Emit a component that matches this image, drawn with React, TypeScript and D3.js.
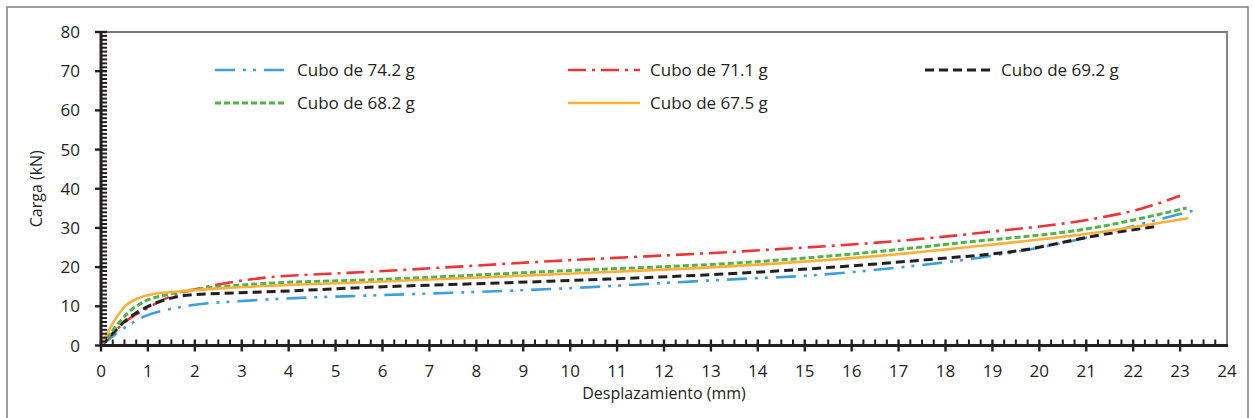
import React, { useEffect, useRef } from "react";
import * as d3 from "d3";

// Carga (kN) vs Desplazamiento (mm)
const cubo742: [number, number][] = [
  [0, 0], [0.16, 1.5], [0.5, 4.5], [0.94, 7.5], [1.43, 9.2], [2, 10.4], [2.93, 11.3],
  [4.13, 12.1], [5.34, 12.6], [9.57, 14.4], [13.83, 17.1], [14.6, 17.5], [17, 19.9],
  [19, 22.9], [21, 27.5], [22, 30.5], [23.4, 34.8],
];
const cubo711: [number, number][] = [
  [0, 0], [0.3, 3.7], [0.58, 6.6], [1.0, 9.6], [1.5, 12.6], [2, 14.3], [2.71, 16.0],
  [3.42, 17.2], [4.85, 18.3], [5.52, 18.7], [9.57, 21.5], [14.04, 24.3], [17, 26.7],
  [19.02, 29.1], [21.14, 32.3], [22.2, 35], [23.0, 38.2],
];
const cubo692: [number, number][] = [
  [0, 0], [0.23, 2.8], [0.51, 6.2], [0.94, 9.6], [1.43, 11.9], [2, 13.0], [2.86, 13.4],
  [3.78, 13.8], [5.4, 14.7], [9.57, 16.4], [13.97, 18.7], [15.5, 19.9], [17.6, 21.9],
  [19.73, 24.5], [21.15, 27.9], [22.5, 30.4],
];
const cubo682: [number, number][] = [
  [0, 0], [0.3, 4.6], [0.58, 8.4], [0.94, 11.3], [1.43, 13.0], [2, 14.3], [3.07, 15.5],
  [4.13, 16.2], [5.34, 16.6], [9.57, 18.9], [14.1, 21.5], [16.5, 23.9], [18.31, 26.2],
  [21.14, 30.0], [23.14, 35.1],
];
const cubo675: [number, number][] = [
  [0, 0], [0.3, 6.6], [0.51, 10.0], [0.8, 12.1], [1.15, 13.2], [1.65, 13.8], [2.71, 14.7],
  [4.13, 15.5], [5.34, 16.0], [9.57, 18.1], [14.1, 20.7], [16.5, 22.8], [18.31, 24.9],
  [21.14, 28.7], [23.17, 32.5],
];

const SERIES = [
  { name: "Cubo de 74.2 g", data: cubo742, color: "#3f9fd8", dash: "20,8,3,7,3,8", width: 2.6 },
  { name: "Cubo de 71.1 g", data: cubo711, color: "#ec3439", dash: "18,6,3,6", width: 2.6 },
  { name: "Cubo de 69.2 g", data: cubo692, color: "#231f20", dash: "9,5", width: 3 },
  { name: "Cubo de 68.2 g", data: cubo682, color: "#4fb447", dash: "6,3", width: 3 },
  { name: "Cubo de 67.5 g", data: cubo675, color: "#fbb03b", dash: null, width: 2.6 },
];

const X_TICKS = d3.range(0, 25, 1);
const Y_TICKS = d3.range(0, 90, 10);

export default function App() {
  const svgRef = useRef<SVGSVGElement>(null);
  const W = 1253;
  const H = 418;
  const PLOT = { left: 101, right: 1227, top: 32, bottom: 345.5 };
  const FONT = "'Open Sans', sans-serif";
  const INK = "#231f20";

  useEffect(() => {
    const svg = d3.select(svgRef.current);
    svg.selectAll("*").remove();

    const x = d3.scaleLinear().domain([0, 24]).range([PLOT.left, PLOT.right]);
    const y = d3.scaleLinear().domain([0, 80]).range([PLOT.bottom, PLOT.top]);

    svg.append("rect").attr("width", W).attr("height", H).attr("fill", "#fff");

    // outer frame
    svg.append("rect")
      .attr("x", 7).attr("y", 7)
      .attr("width", 1241).attr("height", 440)
      .attr("fill", "none")
      .attr("stroke", "#858585")
      .attr("stroke-width", 1.6);

    // top / right plot border
    svg.append("path")
      .attr("d", `M${PLOT.left},${PLOT.top}H${PLOT.right}V${PLOT.bottom}`)
      .attr("fill", "none")
      .attr("stroke", "#7a7a7a")
      .attr("stroke-width", 1.8);

    // series
    const line = d3.line<[number, number]>()
      .x(d => x(d[0]))
      .y(d => y(d[1]))
      .curve(d3.curveMonotoneX);

    SERIES.forEach(s => {
      svg.append("path")
        .datum(s.data)
        .attr("d", line)
        .attr("fill", "none")
        .attr("stroke", s.color)
        .attr("stroke-width", s.width)
        .attr("stroke-dasharray", s.dash)
        .attr("stroke-linejoin", "round");
    });

    // axes
    const ax = svg.append("g").attr("stroke", INK);
    ax.append("line")
      .attr("x1", PLOT.left).attr("x2", PLOT.left)
      .attr("y1", PLOT.top - 1).attr("y2", PLOT.bottom + 1)
      .attr("stroke-width", 3);
    ax.append("line")
      .attr("x1", PLOT.left - 1).attr("x2", PLOT.right + 1)
      .attr("y1", PLOT.bottom).attr("y2", PLOT.bottom)
      .attr("stroke-width", 3);

    // y minor (every 1) and major ticks
    d3.range(0, 81, 1).forEach(v => {
      const major = v % 10 === 0;
      ax.append("line")
        .attr("x1", major ? PLOT.left - 6 : PLOT.left)
        .attr("x2", PLOT.left + 6)
        .attr("y1", y(v)).attr("y2", y(v))
        .attr("stroke-width", major ? 2.4 : 2);
    });
    // x minor (every 0.25) and major ticks
    d3.range(0, 96, 1).map(i => i / 4).forEach(v => {
      const major = v % 1 === 0;
      ax.append("line")
        .attr("x1", x(v)).attr("x2", x(v))
        .attr("y1", PLOT.bottom - 6)
        .attr("y2", major ? PLOT.bottom + 6 : PLOT.bottom)
        .attr("stroke-width", major ? 2.4 : 2);
    });

    // tick labels
    svg.append("g").selectAll("text")
      .data(Y_TICKS)
      .join("text")
      .attr("x", 80)
      .attr("y", d => y(d) + 6)
      .attr("text-anchor", "end")
      .attr("fill", INK)
      .style("font-family", FONT)
      .style("font-size", "17px")
      .text(d => d);

    svg.append("g").selectAll("text")
      .data(X_TICKS)
      .join("text")
      .attr("x", d => x(d))
      .attr("y", 377)
      .attr("text-anchor", "middle")
      .attr("fill", INK)
      .style("font-family", FONT)
      .style("font-size", "17px")
      .text(d => d);

    // axis titles
    svg.append("text")
      .attr("x", (PLOT.left + PLOT.right) / 2)
      .attr("y", 399)
      .attr("text-anchor", "middle")
      .attr("fill", INK)
      .style("font-family", FONT)
      .style("font-size", "16px")
      .text("Desplazamiento (mm)");

    svg.append("text")
      .attr("transform", `translate(42,${(PLOT.top + PLOT.bottom) / 2}) rotate(-90)`)
      .attr("text-anchor", "middle")
      .attr("fill", INK)
      .style("font-family", FONT)
      .style("font-size", "16px")
      .text("Carga (kN)");

    // legend
    const LEG_POS = [
      { x1: 215, x2: 287, y: 70 },
      { x1: 568, x2: 640, y: 70 },
      { x1: 925, x2: 991, y: 70 },
      { x1: 215, x2: 287, y: 103 },
      { x1: 568, x2: 640, y: 103 },
    ];
    SERIES.forEach((s, i) => {
      const p = LEG_POS[i];
      svg.append("line")
        .attr("x1", p.x1).attr("x2", p.x2)
        .attr("y1", p.y).attr("y2", p.y)
        .attr("stroke", s.color)
        .attr("stroke-width", s.width)
        .attr("stroke-dasharray", s.dash);
      svg.append("text")
        .attr("x", p.x2 + 10)
        .attr("y", p.y + 6)
        .attr("fill", INK)
        .style("font-family", FONT)
        .style("font-size", "17px")
        .text(s.name);
    });
  }, []);

  return (
    <svg
      ref={svgRef}
      width={W}
      height={H}
      style={{ position: "absolute", left: 0, top: 0, display: "block" }}
    />
  );
}
